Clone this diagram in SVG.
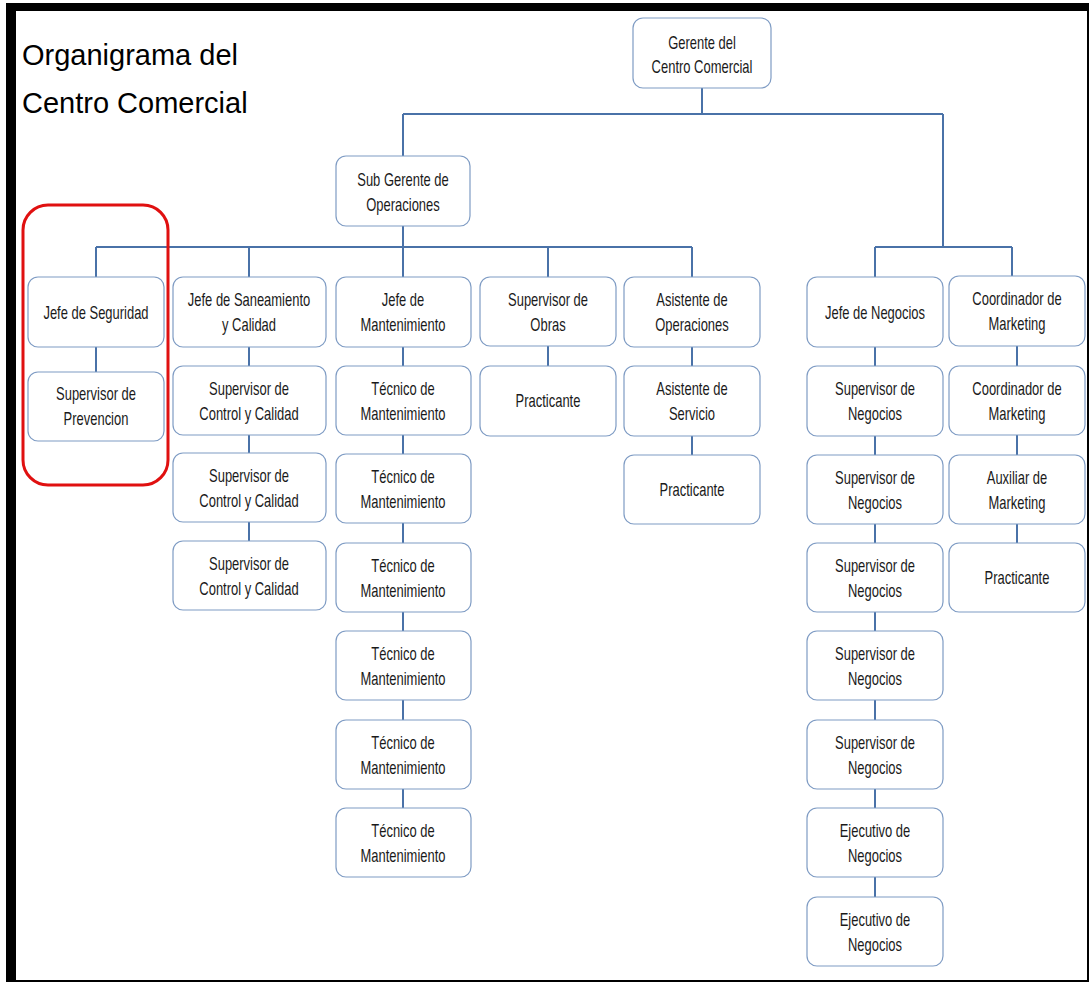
<svg xmlns="http://www.w3.org/2000/svg" width="1091" height="985" viewBox="0 0 1091 985">
<style>
.box{fill:#ffffff;stroke:#7f9cc4;stroke-width:1.2}
.t{font-family:"Liberation Sans",Arial,sans-serif;font-size:18px;fill:#1a1a1a;text-anchor:middle}
.title{font-family:"Liberation Sans",Arial,sans-serif;font-size:29px;fill:#000000}
.c{fill:none;stroke:#4a72a8;stroke-width:2}
</style>
<rect x="0" y="0" width="1091" height="985" fill="#ffffff"/>
<g id="frame">
<rect x="11" y="7" width="1077" height="974" fill="none" stroke="#000" stroke-width="2"/>
<rect x="6" y="3" width="1083" height="8" fill="#000"/>
<rect x="6" y="3" width="10" height="979" fill="#000"/>
</g>
<g id="title">
<text class="title" x="22" y="65">Organigrama del</text>
<text class="title" x="22" y="113">Centro Comercial</text>
</g>
<g id="connectors">
<path class="c" d="M702 88V114M403 114H943M403 114V156M943 114V247M875 247H1012M875 247V277M1012 247V277"/>
<path class="c" d="M403 226V277M96 247H692M96 247V277M249 247V277M548 247V277M692 247V277"/>
<path class="c" d="M96 347V372"/>
<path class="c" d="M249 347V366M249 435V453M249 522V541"/>
<path class="c" d="M403 347V366M403 435V454M403 523V543M403 612V631M403 700V720M403 789V808"/>
<path class="c" d="M548 346V366"/>
<path class="c" d="M692 347V366M692 436V455"/>
<path class="c" d="M875 347V366M875 436V455M875 524V543M875 612V631M875 700V720M875 789V808M875 877V897"/>
<path class="c" d="M1017 346V366M1017 435V455M1017 524V543"/>
</g>
<g id="n-gerente"><rect class="box" x="633" y="18" width="138" height="70" rx="10"/><g transform="translate(702 0) scale(0.72 1)"><text class="t" x="0" y="49">Gerente del</text><text class="t" x="0" y="73">Centro Comercial</text></g></g>
<g id="n-subgerente"><rect class="box" x="336" y="156" width="134" height="70" rx="10"/><g transform="translate(403 0) scale(0.72 1)"><text class="t" x="0" y="186">Sub Gerente de</text><text class="t" x="0" y="211">Operaciones</text></g></g>

<g id="n-jefe-seguridad"><rect class="box" x="28" y="277" width="136" height="70" rx="10"/><g transform="translate(96 0) scale(0.72 1)"><text class="t" x="0" y="319">Jefe de Seguridad</text></g></g>
<g id="n-sup-prevencion"><rect class="box" x="28" y="372" width="136" height="69" rx="10"/><g transform="translate(96 0) scale(0.72 1)"><text class="t" x="0" y="400">Supervisor de</text><text class="t" x="0" y="425">Prevencion</text></g></g>

<g id="n-jefe-saneamiento"><rect class="box" x="173" y="277" width="153" height="70" rx="10"/><g transform="translate(249 0) scale(0.72 1)"><text class="t" x="0" y="306">Jefe de Saneamiento</text><text class="t" x="0" y="331">y Calidad</text></g></g>
<g id="n-sup-control-1"><rect class="box" x="173" y="366" width="153" height="69" rx="10"/><g transform="translate(249 0) scale(0.72 1)"><text class="t" x="0" y="395">Supervisor de</text><text class="t" x="0" y="420">Control y Calidad</text></g></g>
<g id="n-sup-control-2"><rect class="box" x="173" y="453" width="153" height="69" rx="10"/><g transform="translate(249 0) scale(0.72 1)"><text class="t" x="0" y="482">Supervisor de</text><text class="t" x="0" y="507">Control y Calidad</text></g></g>
<g id="n-sup-control-3"><rect class="box" x="173" y="541" width="153" height="69" rx="10"/><g transform="translate(249 0) scale(0.72 1)"><text class="t" x="0" y="570">Supervisor de</text><text class="t" x="0" y="595">Control y Calidad</text></g></g>

<g id="n-jefe-mant"><rect class="box" x="336" y="277" width="135" height="70" rx="10"/><g transform="translate(403 0) scale(0.72 1)"><text class="t" x="0" y="306">Jefe de</text><text class="t" x="0" y="331">Mantenimiento</text></g></g>
<g id="n-tec-1"><rect class="box" x="336" y="366" width="135" height="69" rx="10"/><g transform="translate(403 0) scale(0.72 1)"><text class="t" x="0" y="395">Técnico de</text><text class="t" x="0" y="420">Mantenimiento</text></g></g>
<g id="n-tec-2"><rect class="box" x="336" y="454" width="135" height="69" rx="10"/><g transform="translate(403 0) scale(0.72 1)"><text class="t" x="0" y="483">Técnico de</text><text class="t" x="0" y="508">Mantenimiento</text></g></g>
<g id="n-tec-3"><rect class="box" x="336" y="543" width="135" height="69" rx="10"/><g transform="translate(403 0) scale(0.72 1)"><text class="t" x="0" y="572">Técnico de</text><text class="t" x="0" y="597">Mantenimiento</text></g></g>
<g id="n-tec-4"><rect class="box" x="336" y="631" width="135" height="69" rx="10"/><g transform="translate(403 0) scale(0.72 1)"><text class="t" x="0" y="660">Técnico de</text><text class="t" x="0" y="685">Mantenimiento</text></g></g>
<g id="n-tec-5"><rect class="box" x="336" y="720" width="135" height="69" rx="10"/><g transform="translate(403 0) scale(0.72 1)"><text class="t" x="0" y="749">Técnico de</text><text class="t" x="0" y="774">Mantenimiento</text></g></g>
<g id="n-tec-6"><rect class="box" x="336" y="808" width="135" height="69" rx="10"/><g transform="translate(403 0) scale(0.72 1)"><text class="t" x="0" y="837">Técnico de</text><text class="t" x="0" y="862">Mantenimiento</text></g></g>

<g id="n-sup-obras"><rect class="box" x="480" y="277" width="136" height="69" rx="10"/><g transform="translate(548 0) scale(0.72 1)"><text class="t" x="0" y="306">Supervisor de</text><text class="t" x="0" y="331">Obras</text></g></g>
<g id="n-practicante-obras"><rect class="box" x="480" y="366" width="136" height="70" rx="10"/><g transform="translate(548 0) scale(0.72 1)"><text class="t" x="0" y="407">Practicante</text></g></g>

<g id="n-asist-oper"><rect class="box" x="624" y="277" width="136" height="70" rx="10"/><g transform="translate(692 0) scale(0.72 1)"><text class="t" x="0" y="306">Asistente de</text><text class="t" x="0" y="331">Operaciones</text></g></g>
<g id="n-asist-serv"><rect class="box" x="624" y="366" width="136" height="70" rx="10"/><g transform="translate(692 0) scale(0.72 1)"><text class="t" x="0" y="395">Asistente de</text><text class="t" x="0" y="420">Servicio</text></g></g>
<g id="n-practicante-asist"><rect class="box" x="624" y="455" width="136" height="69" rx="10"/><g transform="translate(692 0) scale(0.72 1)"><text class="t" x="0" y="496">Practicante</text></g></g>

<g id="n-jefe-negocios"><rect class="box" x="807" y="277" width="136" height="70" rx="10"/><g transform="translate(875 0) scale(0.72 1)"><text class="t" x="0" y="319">Jefe de Negocios</text></g></g>
<g id="n-sup-neg-1"><rect class="box" x="807" y="366" width="136" height="70" rx="10"/><g transform="translate(875 0) scale(0.72 1)"><text class="t" x="0" y="395">Supervisor de</text><text class="t" x="0" y="420">Negocios</text></g></g>
<g id="n-sup-neg-2"><rect class="box" x="807" y="455" width="136" height="69" rx="10"/><g transform="translate(875 0) scale(0.72 1)"><text class="t" x="0" y="484">Supervisor de</text><text class="t" x="0" y="509">Negocios</text></g></g>
<g id="n-sup-neg-3"><rect class="box" x="807" y="543" width="136" height="69" rx="10"/><g transform="translate(875 0) scale(0.72 1)"><text class="t" x="0" y="572">Supervisor de</text><text class="t" x="0" y="597">Negocios</text></g></g>
<g id="n-sup-neg-4"><rect class="box" x="807" y="631" width="136" height="69" rx="10"/><g transform="translate(875 0) scale(0.72 1)"><text class="t" x="0" y="660">Supervisor de</text><text class="t" x="0" y="685">Negocios</text></g></g>
<g id="n-sup-neg-5"><rect class="box" x="807" y="720" width="136" height="69" rx="10"/><g transform="translate(875 0) scale(0.72 1)"><text class="t" x="0" y="749">Supervisor de</text><text class="t" x="0" y="774">Negocios</text></g></g>
<g id="n-ejec-1"><rect class="box" x="807" y="808" width="136" height="69" rx="10"/><g transform="translate(875 0) scale(0.72 1)"><text class="t" x="0" y="837">Ejecutivo de</text><text class="t" x="0" y="862">Negocios</text></g></g>
<g id="n-ejec-2"><rect class="box" x="807" y="897" width="136" height="69" rx="10"/><g transform="translate(875 0) scale(0.72 1)"><text class="t" x="0" y="926">Ejecutivo de</text><text class="t" x="0" y="951">Negocios</text></g></g>

<g id="n-coord-1"><rect class="box" x="949" y="276" width="136" height="70" rx="10"/><g transform="translate(1017 0) scale(0.72 1)"><text class="t" x="0" y="305">Coordinador de</text><text class="t" x="0" y="330">Marketing</text></g></g>
<g id="n-coord-2"><rect class="box" x="949" y="366" width="136" height="69" rx="10"/><g transform="translate(1017 0) scale(0.72 1)"><text class="t" x="0" y="395">Coordinador de</text><text class="t" x="0" y="420">Marketing</text></g></g>
<g id="n-aux-mkt"><rect class="box" x="949" y="455" width="136" height="69" rx="10"/><g transform="translate(1017 0) scale(0.72 1)"><text class="t" x="0" y="484">Auxiliar de</text><text class="t" x="0" y="509">Marketing</text></g></g>
<g id="n-practicante-mkt"><rect class="box" x="949" y="543" width="136" height="69" rx="10"/><g transform="translate(1017 0) scale(0.72 1)"><text class="t" x="0" y="584">Practicante</text></g></g>

<g id="highlight"><rect x="23" y="205" width="145" height="280" rx="25" fill="none" stroke="#e01010" stroke-width="3"/></g>
</svg>
